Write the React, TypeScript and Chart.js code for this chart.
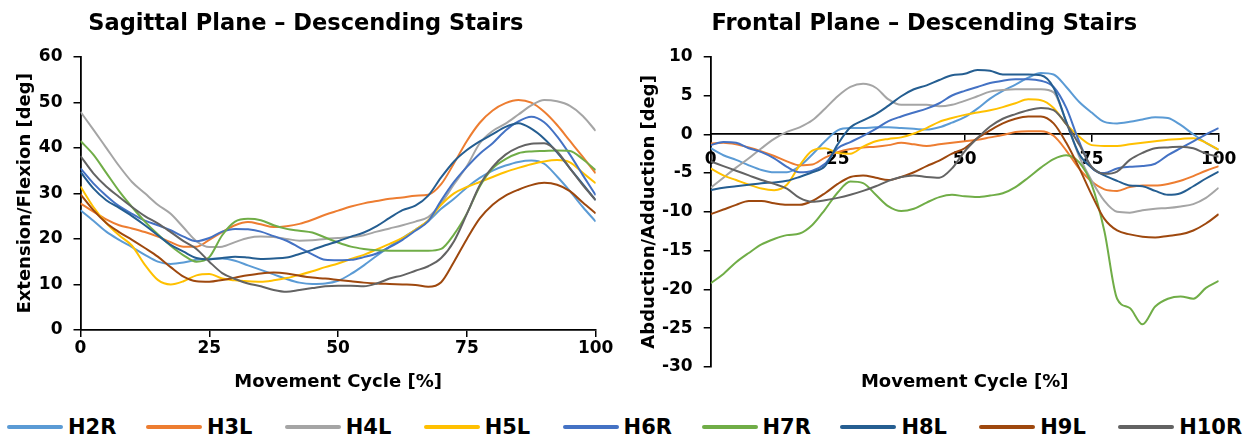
import React, { useEffect, useRef } from 'react';
import { Chart, registerables } from 'chart.js';

Chart.register(...registerables);

const FONT = 'DejaVu Sans';

const CYCLE_PCT = [0, 2.5, 5, 7.5, 10, 12.5, 15, 17.5, 20, 22.5, 25, 27.5, 30, 32.5, 35, 37.5, 40, 42.5, 45, 47.5, 50, 52.5, 55, 57.5, 60, 62.5, 65, 67.5, 70, 72.5, 75, 77.5, 80, 82.5, 85, 87.5, 90, 92.5, 95, 97.5, 100];

const SERIES_NAMES = ['H2R', 'H3L', 'H4L', 'H5L', 'H6R', 'H7R', 'H8L', 'H9L', 'H10R'];
const SERIES_COLORS = ['#5B9BD5', '#ED7D31', '#A5A5A5', '#FFC000', '#4472C4', '#70AD47', '#255E91', '#9E480E', '#636363'];

// Sagittal plane (Extension/Flexion, deg)
const SAG_H2R = [26.3, 24, 21.6, 19.8, 18.2, 16.5, 15, 14.5, 14.8, 15.4, 15.6, 15.7, 15.2, 14.2, 13.2, 12.2, 11.2, 10.4, 10.1, 10.2, 10.8, 12.3, 14.2, 16.3, 18.3, 20.2, 22, 23.9, 26.6, 28.8, 31.3, 33.4, 35, 36.1, 36.9, 37.2, 36.5, 33.7, 30.5, 27, 23.8];
const SAG_H3L = [27.8, 26, 24.3, 23, 22.3, 21.5, 20.5, 19.3, 18.3, 18.3, 19.8, 21.5, 23, 23.7, 23.2, 22.6, 22.8, 23.3, 24.2, 25.3, 26.2, 27.1, 27.8, 28.3, 28.8, 29.1, 29.5, 29.7, 32, 36.6, 41.5, 45.5, 48.2, 49.8, 50.5, 49.9, 47.9, 45, 41.5, 38, 34.4];
const SAG_H4L = [47.9, 44, 40, 36, 32.5, 30, 27.5, 25.5, 22.5, 19.5, 18.2, 18.3, 19.3, 20.2, 20.5, 20.4, 20, 19.6, 19.7, 20, 20.2, 20.4, 20.8, 21.6, 22.3, 23, 23.8, 24.8, 27.8, 32, 36, 41, 43.7, 45.3, 47.3, 49.3, 50.5, 50.2, 49.2, 47, 43.7];
const SAG_H5L = [31.5, 27, 23.5, 20.8, 18.5, 14.3, 11, 10, 10.7, 12, 12.3, 11.3, 10.9, 10.7, 10.6, 10.9, 11.4, 12.1, 12.9, 13.8, 14.6, 15.6, 16.5, 17.7, 18.9, 20.2, 22, 24.1, 27.5, 30, 31.4, 32.5, 33.6, 34.7, 35.6, 36.4, 37, 37.3, 36.8, 34.5, 32.2];
const SAG_H6R = [35.5, 32.2, 29.5, 27.2, 25.5, 24, 23, 21.9, 20.5, 19.5, 20.2, 21.6, 22.2, 22.1, 21.6, 20.6, 19.6, 18.1, 16.6, 15.4, 15.3, 15.4, 16, 16.8, 18.2, 19.8, 21.8, 23.9, 28.4, 32.5, 35.8, 38.7, 41, 43.8, 45.8, 46.8, 45.6, 42.5, 38.5, 34, 29.6];
const SAG_H7R = [41.5, 38.5, 34.5, 30.5, 27, 23.8, 21, 18.5, 16.4, 15, 16, 20.8, 23.8, 24.4, 24.1, 23, 22.2, 21.8, 21.4, 20.3, 19.2, 18.3, 17.8, 17.5, 17.4, 17.4, 17.4, 17.4, 17.8, 21, 25.6, 31.5, 35.5, 37.5, 38.8, 39.2, 39.3, 39.4, 39.3, 37.5, 35.1];
const SAG_H8L = [34.7, 31.1, 28.5, 26.8, 25, 23, 20.8, 18.7, 17.2, 15.8, 15.5, 15.8, 16.1, 15.9, 15.6, 15.7, 15.9, 16.7, 17.6, 18.6, 19.5, 20.5, 21.4, 22.8, 24.6, 26.3, 27.3, 29.5, 33.5, 37, 39.5, 41.4, 43, 44.6, 45.4, 44.2, 42, 39, 35.5, 32, 28.5];
const SAG_H9L = [29.8, 26.3, 23.5, 21.5, 19.8, 18, 16.1, 13.8, 11.7, 10.7, 10.6, 11, 11.5, 12, 12.4, 12.6, 12.4, 11.9, 11.5, 11.3, 11, 10.7, 10.4, 10.2, 10.1, 10, 9.9, 9.5, 10.5, 15, 20, 24.5, 27.5, 29.5, 30.8, 31.8, 32.3, 31.9, 30.5, 28, 25.6];
const SAG_H10R = [38.2, 34.4, 31.5, 29.2, 27, 25, 23.4, 21.5, 19.5, 17.8, 15, 12.5, 11.2, 10.2, 9.6, 8.8, 8.4, 8.8, 9.2, 9.6, 9.7, 9.7, 9.6, 10.2, 11.3, 12, 13, 14, 15.8, 19.5, 25.5, 31.8, 35.8, 38.5, 40.1, 40.9, 41, 39.2, 35.5, 31.8, 28.5];

// Frontal plane (Abduction/Adduction, deg)
const FRO_H2R = [-1.8, -2.7, -3.3, -4, -4.6, -4.9, -4.9, -4.1, -2.6, -0.9, 0.5, 0.8, 0.8, 0.9, 0.9, 0.8, 0.7, 0.6, 0.9, 1.5, 2.2, 3.3, 4.6, 5.6, 6.4, 7.3, 7.9, 7.7, 6.1, 4.2, 2.8, 1.6, 1.4, 1.6, 1.9, 2.2, 2.1, 1.2, 0, -1.1, -2];
const FRO_H3L = [-1.2, -1.1, -1.3, -1.7, -2.2, -2.8, -3.5, -4, -3.9, -3, -2.3, -1.9, -1.7, -1.6, -1.4, -1.1, -1.3, -1.5, -1.3, -1.1, -0.9, -0.7, -0.4, -0.1, 0.3, 0.4, 0.4, -0.2, -2.1, -4.4, -6.1, -7.1, -7.3, -6.8, -6.6, -6.6, -6.4, -6, -5.4, -4.7, -4.1];
const FRO_H4L = [-6.9, -5.6, -4.3, -3.1, -1.8, -0.6, 0.3, 0.9, 1.8, 3.3, 4.9, 6.1, 6.5, 6, 4.5, 3.8, 3.8, 3.8, 3.6, 3.8, 4.3, 4.9, 5.5, 5.7, 5.8, 5.8, 5.8, 5.4, 1.6, -2.8, -6, -8.6, -10, -10.1, -9.8, -9.6, -9.5, -9.3, -9, -8.2, -6.9];
const FRO_H5L = [-4.4, -5.3, -5.9, -6.5, -7, -7.2, -6.5, -4, -2.1, -1.8, -2.4, -2.5, -1.6, -0.9, -0.6, -0.4, 0.1, 0.8, 1.6, 2.1, 2.5, 2.8, 3.1, 3.5, 4, 4.5, 4.4, 3.4, 1.3, -0.3, -1.4, -1.5, -1.5, -1.3, -1.1, -0.9, -0.7, -0.6, -0.5, -1.1, -2];
const FRO_H6R = [-1.4, -1, -1.1, -1.8, -2.3, -3.1, -4.2, -4.9, -4.7, -3.8, -1.8, -1, -0.2, 0.7, 1.7, 2.3, 2.8, 3.3, 4, 5, 5.6, 6.1, 6.6, 6.9, 7.1, 7.1, 6.9, 6.1, 3.4, -0.9, -4.3, -5, -4.4, -4.2, -4.1, -3.8, -2.7, -1.8, -0.9, 0, 0.8];
const FRO_H7R = [-19.2, -18, -16.5, -15.3, -14.2, -13.5, -13, -12.8, -11.7, -9.7, -7.5, -6.1, -6.3, -7.8, -9.3, -9.9, -9.6, -8.8, -8.1, -7.8, -8, -8.1, -7.9, -7.6, -6.8, -5.6, -4.3, -3.2, -2.7, -3.6, -6.5, -12.5, -21.2, -22.4, -24.5, -22.2, -21.2, -20.9, -21.2, -19.8, -18.9];
const FRO_H8L = [-7.2, -6.9, -6.7, -6.5, -6.3, -6.2, -6, -5.5, -4.9, -4.1, -1.3, 0.9, 1.8, 2.6, 3.7, 4.9, 5.8, 6.3, 7, 7.6, 7.8, 8.3, 8.2, 7.7, 7.7, 7.7, 7.6, 6, 1.6, -2.5, -4.3, -5.3, -6, -6.6, -6.7, -7.3, -7.8, -7.6, -6.7, -5.7, -4.8];
const FRO_H9L = [-10.3, -9.7, -9.1, -8.6, -8.6, -8.9, -9.1, -9.1, -8.6, -7.6, -6.4, -5.5, -5.3, -5.6, -5.9, -5.5, -4.9, -4.1, -3.4, -2.5, -1.8, -0.5, 0.5, 1.4, 2, 2.3, 2.3, 1.4, -1.1, -4.3, -7.8, -10.9, -12.4, -12.9, -13.2, -13.3, -13.1, -12.9, -12.4, -11.5, -10.3];
const FRO_H10R = [-3.5, -4.1, -4.7, -5.3, -5.9, -6.4, -7, -8.2, -8.7, -8.5, -8.2, -7.8, -7.3, -6.7, -6, -5.5, -5.3, -5.5, -5.6, -4.4, -2.2, -0.5, 1, 2, 2.6, 3.1, 3.4, 3.1, 1.3, -1.3, -4.2, -5.1, -4.8, -3.3, -2.4, -1.8, -1.7, -1.6, -1.8, -2.5, -2.9];

const SAGITTAL_SERIES = [SAG_H2R, SAG_H3L, SAG_H4L, SAG_H5L, SAG_H6R, SAG_H7R, SAG_H8L, SAG_H9L, SAG_H10R];
const FRONTAL_SERIES = [FRO_H2R, FRO_H3L, FRO_H4L, FRO_H5L, FRO_H6R, FRO_H7R, FRO_H8L, FRO_H9L, FRO_H10R];

const SAGITTAL_TITLE = 'Sagittal Plane – Descending Stairs';
const FRONTAL_TITLE = 'Frontal Plane – Descending Stairs';
const X_TITLE = 'Movement Cycle [%]';
const SAGITTAL_Y_TITLE = 'Extension/Flexion [deg]';
const FRONTAL_Y_TITLE = 'Abduction/Adduction [deg]';

function buildDatasets(series: number[][]) {
  return SERIES_NAMES.map((name, i) => ({
    label: name,
    data: CYCLE_PCT.map((x, j) => ({ x, y: series[i][j] })),
    borderColor: SERIES_COLORS[i],
    backgroundColor: SERIES_COLORS[i],
    borderWidth: 2,
    pointRadius: 0,
    pointHoverRadius: 0,
    cubicInterpolationMode: 'monotone' as const,
    fill: false,
    order: SERIES_NAMES.length - i,
    xAxisID: 'x',
    yAxisID: 'y',
  }));
}

const tickFont = { family: FONT, size: 17, weight: 'bold' as const };
const axisTitleFont = { family: FONT, size: 18, weight: 'bold' as const, lineHeight: 1.2 };
const chartTitleFont = { family: FONT, size: 22.5, weight: 'bold' as const, lineHeight: 1.2 };
const tickGrid = { display: true, drawOnChartArea: false, drawTicks: true, tickLength: 7, color: '#000', lineWidth: 1.5 };
const axisBorder = { display: true, color: '#000', width: 1.8 };

function sagittalConfig(): any {
  return {
    type: 'line',
    data: { datasets: buildDatasets(SAGITTAL_SERIES) },
    options: {
      responsive: false,
      animation: false,
      events: [],
      layout: { padding: { left: 16, right: 24.3, top: 0, bottom: 0 } },
      plugins: {
        legend: { display: false },
        tooltip: { enabled: false },
        title: { display: true, text: SAGITTAL_TITLE, color: '#000', font: chartTitleFont, padding: { top: 11, bottom: 18.7 } },
      },
      scales: {
        x: {
          type: 'linear', min: 0, max: 100, position: 'bottom',
          ticks: { stepSize: 25, color: '#000', font: tickFont, padding: 1, maxRotation: 0, autoSkip: false },
          grid: tickGrid, border: axisBorder,
          title: { display: true, text: X_TITLE, color: '#000', font: axisTitleFont, padding: { top: 0, bottom: 7 } },
          afterFit: (s: any) => { s.height = 70; },
        },
        y: {
          type: 'linear', min: 0, max: 60,
          ticks: { stepSize: 10, color: '#000', font: tickFont, padding: 11 },
          grid: tickGrid, border: axisBorder,
          title: { display: true, text: SAGITTAL_Y_TITLE, color: '#000', font: axisTitleFont, padding: { top: -1.5, bottom: 0 } },
          afterFit: (s: any) => { s.width = 64.5; },
        },
      },
    },
  };
}

function frontalConfig(): any {
  return {
    type: 'line',
    data: { datasets: buildDatasets(FRONTAL_SERIES) },
    options: {
      responsive: false,
      animation: false,
      events: [],
      layout: { padding: { left: 10, right: 34.3, top: 0, bottom: 0 } },
      plugins: {
        legend: { display: false },
        tooltip: { enabled: false },
        title: { display: true, text: FRONTAL_TITLE, color: '#000', font: chartTitleFont, padding: { top: 11, bottom: 18.7 } },
      },
      scales: {
        x: {
          type: 'linear', min: 0, max: 100, position: { y: 0 }, z: 1,
          ticks: { stepSize: 25, color: '#000', font: tickFont, padding: 8, maxRotation: 0, autoSkip: false },
          grid: tickGrid, border: axisBorder,
          title: { display: false },
        },
        x2: {
          type: 'linear', min: 0, max: 100, position: 'bottom',
          ticks: { display: false },
          grid: { display: false },
          border: { display: false },
          title: { display: true, text: X_TITLE, color: '#000', font: axisTitleFont, padding: { top: 0, bottom: 7 } },
          afterFit: (s: any) => { s.height = 33; },
        },
        y: {
          type: 'linear', min: -30, max: 10,
          ticks: { stepSize: 5, color: '#000', font: tickFont, padding: 11 },
          grid: tickGrid, border: axisBorder,
          title: { display: true, text: FRONTAL_Y_TITLE, color: '#000', font: axisTitleFont, padding: { top: 9, bottom: 0 } },
          afterFit: (s: any) => { s.width = 80.7; },
        },
      },
    },
  };
}

function ChartCanvas({ width, height, config, left }: { width: number; height: number; config: () => any; left: number }) {
  const ref = useRef<HTMLCanvasElement | null>(null);
  useEffect(() => {
    if (!ref.current) return;
    const chart = new Chart(ref.current, config());
    return () => chart.destroy();
  }, [config]);
  return (
    <canvas
      ref={ref}
      width={width}
      height={height}
      style={{ position: 'absolute', left, top: 0, width, height, display: 'block' }}
    />
  );
}

export default function App() {
  return (
    <div style={{ position: 'fixed', left: 0, top: 0, width: 1253, height: 440, background: '#fff', overflow: 'hidden' }}>
      <ChartCanvas width={620} height={400} left={0} config={sagittalConfig} />
      <ChartCanvas width={633} height={400} left={620} config={frontalConfig} />
      <div style={{ position: 'absolute', left: 0, top: 400, width: 1253, height: 40 }}>
        {SERIES_NAMES.map((name, i) => (
          <div
            key={name}
            style={{ position: 'absolute', left: 7 + i * 138.9, top: 7, height: 40, display: 'flex', alignItems: 'center' }}
          >
            <span style={{ display: 'inline-block', width: 56, height: 4, borderRadius: 2, background: SERIES_COLORS[i] }} />
            <span style={{ marginLeft: 5, fontFamily: FONT, fontWeight: 'bold', fontSize: 21, color: '#000', lineHeight: '26px' }}>{name}</span>
          </div>
        ))}
      </div>
    </div>
  );
}
